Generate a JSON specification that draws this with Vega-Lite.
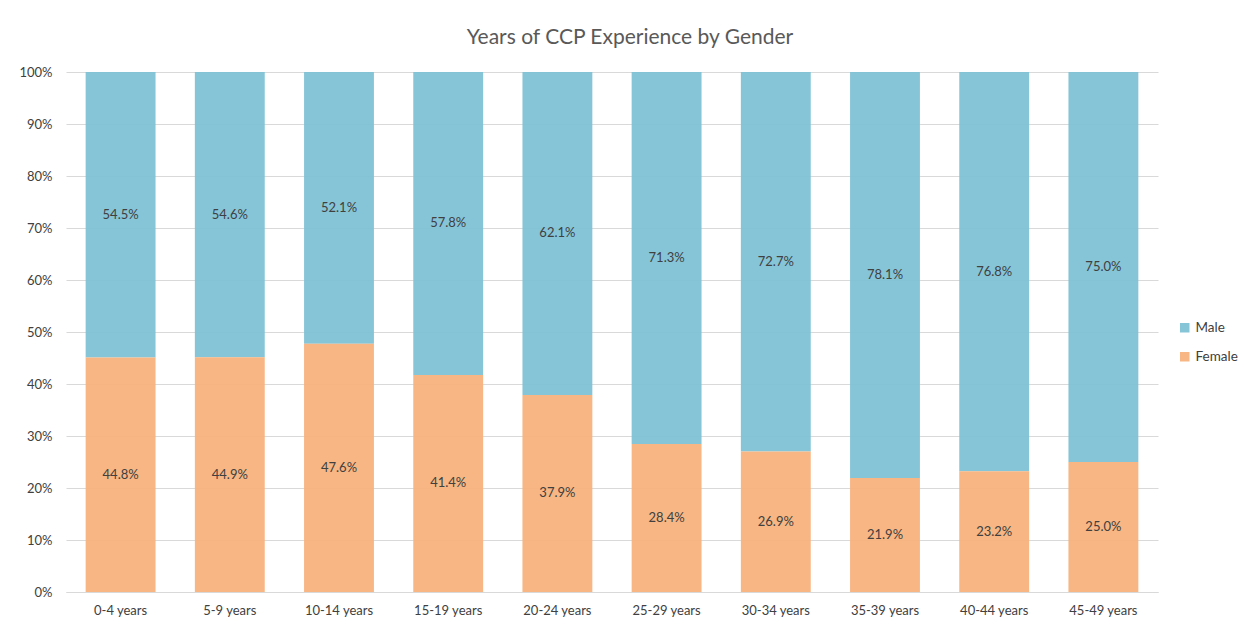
{
  "$schema": "https://vega.github.io/schema/vega-lite/v6.json",
  "width": 1092,
  "height": 520,
  "autosize": "none",
  "padding": {"left": 66, "top": 72, "right": 86, "bottom": 32},
  "background": "white",
  "title": {
    "text": "Years of CCP Experience by Gender",
    "anchor": "middle",
    "frame": "group",
    "offset": 18,
    "dx": 18,
    "fontSize": 21,
    "font": "Lato",
    "fontWeight": "normal",
    "color": "#595959"
  },
  "config": {
    "view": {"stroke": null},
    "font": "Lato"
  },
  "data": {
    "values": [
      {"group": "0-4 years", "gender": "Male", "share": 0.545},
      {"group": "0-4 years", "gender": "Female", "share": 0.448},
      {"group": "5-9 years", "gender": "Male", "share": 0.546},
      {"group": "5-9 years", "gender": "Female", "share": 0.449},
      {"group": "10-14 years", "gender": "Male", "share": 0.521},
      {"group": "10-14 years", "gender": "Female", "share": 0.476},
      {"group": "15-19 years", "gender": "Male", "share": 0.578},
      {"group": "15-19 years", "gender": "Female", "share": 0.414},
      {"group": "20-24 years", "gender": "Male", "share": 0.621},
      {"group": "20-24 years", "gender": "Female", "share": 0.379},
      {"group": "25-29 years", "gender": "Male", "share": 0.713},
      {"group": "25-29 years", "gender": "Female", "share": 0.284},
      {"group": "30-34 years", "gender": "Male", "share": 0.727},
      {"group": "30-34 years", "gender": "Female", "share": 0.269},
      {"group": "35-39 years", "gender": "Male", "share": 0.781},
      {"group": "35-39 years", "gender": "Female", "share": 0.219},
      {"group": "40-44 years", "gender": "Male", "share": 0.768},
      {"group": "40-44 years", "gender": "Female", "share": 0.232},
      {"group": "45-49 years", "gender": "Male", "share": 0.750},
      {"group": "45-49 years", "gender": "Female", "share": 0.250}
    ]
  },
  "encoding": {
    "x": {
      "field": "group",
      "type": "nominal",
      "sort": null,
      "scale": {"paddingInner": 0.36, "paddingOuter": 0.18},
      "axis": {
        "title": null,
        "labelAngle": 0,
        "labelFontSize": 13,
        "labelColor": "#404040",
        "labelPadding": 12,
        "ticks": false,
        "domainColor": "#d9d9d9",
        "grid": false
      }
    }
  },
  "layer": [
    {
      "mark": {"type": "bar", "opacity": 0.95},
      "encoding": {
        "y": {
          "field": "share",
          "type": "quantitative",
          "stack": "normalize",
          "scale": {"domain": [0, 1]},
          "axis": {
            "title": null,
            "format": ".0%",
            "values": [0, 0.1, 0.2, 0.3, 0.4, 0.5, 0.6, 0.7, 0.8, 0.9, 1],
            "labelFontSize": 13,
            "labelColor": "#404040",
            "labelPadding": 14,
            "ticks": false,
            "domain": false,
            "gridColor": "#d9d9d9"
          }
        },
        "color": {
          "field": "gender",
          "type": "nominal",
          "scale": {"domain": ["Male", "Female"], "range": ["#7fc2d6", "#f7b27c"]},
          "legend": {
            "title": null,
            "orient": "none",
            "legendX": 1112,
            "legendY": 249,
            "symbolType": "square",
            "symbolSize": 90,
            "symbolStrokeWidth": 0,
            "labelFontSize": 13.5,
            "labelColor": "#404040",
            "rowPadding": 14,
            "labelOffset": 4
          }
        },
        "order": {"field": "gender", "type": "nominal", "sort": "ascending"}
      }
    },
    {
      "transform": [
        {
          "stack": "share",
          "groupby": ["group"],
          "offset": "normalize",
          "sort": [{"field": "gender", "order": "ascending"}],
          "as": ["y0", "y1"]
        },
        {"calculate": "(datum.y0 + datum.y1) / 2", "as": "ymid"}
      ],
      "mark": {"type": "text", "fontSize": 13, "color": "#404040"},
      "encoding": {
        "y": {"field": "ymid", "type": "quantitative"},
        "text": {"field": "share", "type": "quantitative", "format": ".1%"}
      }
    }
  ]
}
